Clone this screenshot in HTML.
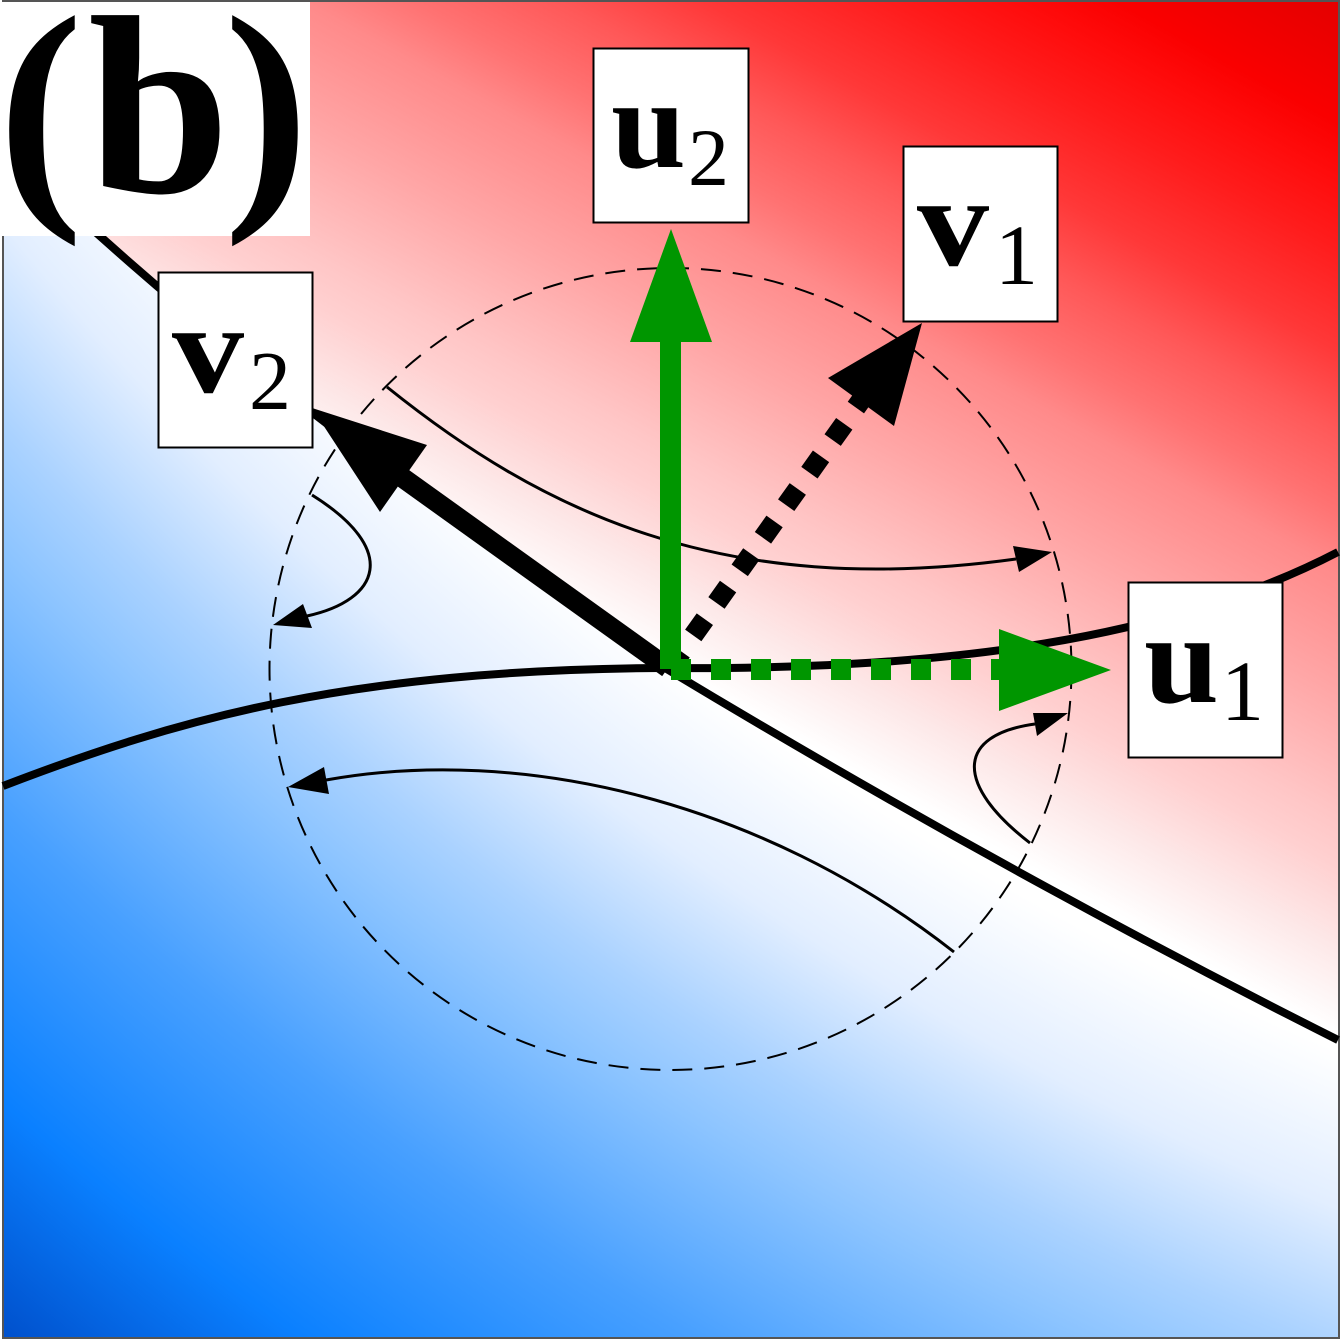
<!DOCTYPE html>
<html>
<head>
<meta charset="utf-8">
<style>
  html, body { margin: 0; padding: 0; background: #ffffff; }
  svg { display: block; }
  text { font-family: "Liberation Serif", "DejaVu Serif", serif; fill: #000; }
</style>
</head>
<body>
<svg width="1343" height="1343" viewBox="0 0 1343 1343" xmlns="http://www.w3.org/2000/svg">
  <defs>
    <!-- blue side: radial field -->
    <radialGradient id="bgBlue" gradientUnits="userSpaceOnUse" cx="2589" cy="-1886" r="4200">
      <stop offset="0.000" stop-color="#ffffff"/>
      <stop offset="0.760" stop-color="#ffffff"/>
      <stop offset="0.7945" stop-color="#e2eeff"/>
      <stop offset="0.826" stop-color="#aad2ff"/>
      <stop offset="0.846" stop-color="#8cc4ff"/>
      <stop offset="0.890" stop-color="#48a0ff"/>
      <stop offset="0.941" stop-color="#0a80ff"/>
      <stop offset="0.984" stop-color="#0050cc"/>
      <stop offset="1.000" stop-color="#0048c0"/>
    </radialGradient>
    <!-- red side: linear field -->
    <linearGradient id="bgRed" gradientUnits="userSpaceOnUse" x1="670" y1="668" x2="1152" y2="-208">
      <stop offset="0.000" stop-color="#ffffff"/>
      <stop offset="0.075" stop-color="#fde8e8"/>
      <stop offset="0.148" stop-color="#ffd0d0"/>
      <stop offset="0.190" stop-color="#ffc6c6"/>
      <stop offset="0.300" stop-color="#ffa6a6"/>
      <stop offset="0.407" stop-color="#ff8a8a"/>
      <stop offset="0.460" stop-color="#ff7272"/>
      <stop offset="0.530" stop-color="#ff5858"/>
      <stop offset="0.600" stop-color="#ff3838"/>
      <stop offset="0.690" stop-color="#ff1c1c"/>
      <stop offset="0.750" stop-color="#ff0c0c"/>
      <stop offset="0.800" stop-color="#fa0000"/>
      <stop offset="0.906" stop-color="#e40000"/>
      <stop offset="1.000" stop-color="#d80000"/>
    </linearGradient>
    <clipPath id="redClip">
      <path d="M-10 150 L60 200 C180 310 300 406 400 478 L665 668 Q1000 870 1350 1046 L1350 -10 L-10 -10 Z"/>
    </clipPath>
    <clipPath id="frameClip">
      <rect x="3" y="1" width="1336" height="1337"/>
    </clipPath>
  </defs>

  <!-- plot background -->
  <g clip-path="url(#frameClip)">
    <rect x="0" y="0" width="1343" height="1343" fill="url(#bgBlue)"/>
    <rect x="0" y="0" width="1343" height="1343" fill="url(#bgRed)" clip-path="url(#redClip)"/>
  </g>
  <rect x="3" y="1" width="1336" height="1337" fill="none" stroke="#555" stroke-width="2"/>

  <!-- dashed circle -->
  <circle cx="670.5" cy="669" r="401" fill="none" stroke="#000" stroke-width="2" stroke-dasharray="20 12"/>

  <!-- thin flow curves with arrowheads -->
  <g fill="none" stroke="#000" stroke-width="3">
    <path d="M387 387 C540 510 720 600 1016 559"/>
    <path d="M312 495 C400 550 380 600 307 616"/>
    <path d="M954 952 C760 800 520 745 326 780"/>
    <path d="M1030 843 C955 785 955 735 1035 724"/>
  </g>
  <g fill="#000">
    <polygon points="1052,552 1013,546 1019,572"/>
    <polygon points="273,625 303,604 312,628"/>
    <polygon points="288,787 324,767 329,794"/>
    <polygon points="1068,713 1033,713 1037,736"/>
  </g>

  <!-- thick separatrices -->
  <g fill="none" stroke="#000" stroke-width="8" stroke-linejoin="round">
    <path d="M3 786 C180 718 350 670 662 668 C900 670 1150 650 1338 552"/>
    <path d="M665 668 Q1000 870 1338 1040"/>
    <path d="M665 668 L400 478 C300 406 180 310 60 200"/>
  </g>

  <!-- v1 dotted black arrow -->
  <line x1="670" y1="668" x2="864.6" y2="395.3" stroke="#000" stroke-width="20" stroke-dasharray="20 20"/>
  <polygon points="922,323 828,378 894,426" fill="#000"/>

  <!-- v2 thick black arrow -->
  <line x1="668" y1="668" x2="396" y2="473" stroke="#000" stroke-width="20"/>
  <polygon points="312,408 427,445 380,512" fill="#000"/>

  <!-- u2 green arrow -->
  <rect x="660" y="340" width="21" height="329" fill="#009600"/>
  <polygon points="671,229 712,342 630,342" fill="#009600"/>

  <!-- u1 green dotted arrow -->
  <line x1="671" y1="669.5" x2="1000" y2="669.5" stroke="#009600" stroke-width="21" stroke-dasharray="20 20"/>
  <polygon points="1111,670 999,629 999,711" fill="#009600"/>

  <!-- label boxes -->
  <g fill="#ffffff" stroke="#000" stroke-width="2">
    <rect x="593.5" y="48.5" width="155" height="174"/>
    <rect x="903.5" y="146.5" width="154" height="175"/>
    <rect x="158.5" y="272.5" width="154" height="175"/>
    <rect x="1128.5" y="582.5" width="154" height="175"/>
  </g>

  <!-- u2 -->
  <text x="611" y="167" font-size="128" font-weight="bold" textLength="75" lengthAdjust="spacingAndGlyphs">u</text>
  <text x="688" y="185" font-size="82">2</text>
  <!-- v1 -->
  <text x="917" y="265" font-size="128" font-weight="bold" textLength="72" lengthAdjust="spacingAndGlyphs">v</text>
  <text x="995" y="284" font-size="86">1</text>
  <!-- v2 -->
  <text x="172" y="392" font-size="128" font-weight="bold" textLength="72" lengthAdjust="spacingAndGlyphs">v</text>
  <text x="249" y="409" font-size="84">2</text>
  <!-- u1 -->
  <text x="1144" y="702" font-size="128" font-weight="bold" textLength="75" lengthAdjust="spacingAndGlyphs">u</text>
  <text x="1221" y="720" font-size="86">1</text>

  <!-- panel label (b) -->
  <rect x="0" y="2" width="310" height="234" fill="#ffffff"/>
  <text x="-2" y="192" font-size="255" font-weight="bold">(</text>
  <text x="88" y="192" font-size="255" font-weight="bold">b</text>
  <text x="224" y="192" font-size="255" font-weight="bold">)</text>
</svg>
</body>
</html>
